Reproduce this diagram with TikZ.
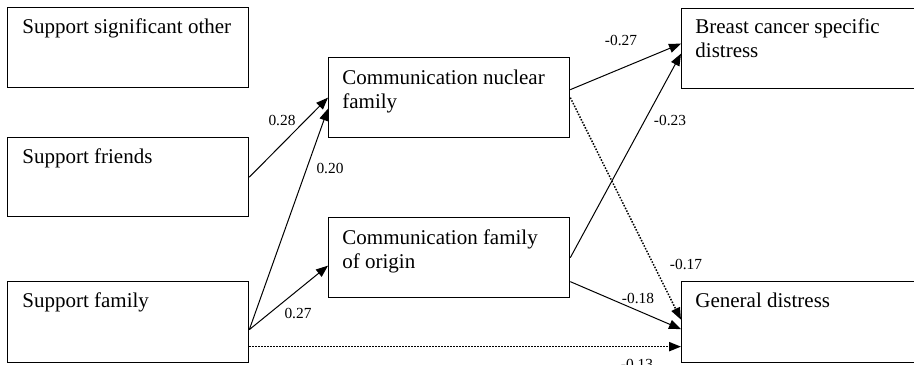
\documentclass[tikz,border=0pt]{standalone}
\usepackage{fontspec}
\setmainfont{Liberation Serif}
\usetikzlibrary{arrows.meta,calc}
% stacked lines inside a box, first baseline is the node's baseline
\newcommand{\boxlines}[1]{\begin{tabular}[t]{@{}l@{}}#1\end{tabular}}
\begin{document}
\begin{tikzpicture}[x=0.5pt,y=-0.5pt,
  box/.style={draw,line width=0.65pt,minimum width=120.5pt,minimum height=40pt,
    anchor=north west,inner sep=0pt},
  boxtext/.style={anchor=base west,inner sep=0pt,font=\fontsize{10.5}{12}\selectfont},
  coef/.style={inner sep=0pt,font=\fontsize{7.7}{9}\selectfont},
  path/.style={line width=0.5pt,-{Triangle[length=6pt,width=4.6pt]}},
  weak/.style={path,line width=0.75pt,dash pattern=on 0.75pt off 0.75pt}
]
\fill[white] (0,0) rectangle (914,364);
\useasboundingbox (0,0) rectangle (914,364);

% boxes
\node[box,minimum height=40pt] (sso) at (7,7) {};
\node[box,minimum height=39.5pt] (fr) at (7,137) {};
\node[box,minimum height=40.5pt] (fam) at (7,281) {};
\node[box] (nuc) at (328,57) {};
\node[box] (orig) at (328,217) {};
\node[box] (br) at (681,8) {};
\node[box,minimum height=40.5pt] (gen) at (681,281) {};

% box texts
\node[boxtext] (tsso) at ($(sso.north west)+(15,26)$) {\boxlines{Support significant other}};
\node[boxtext] (tfr) at ($(fr.north west)+(15,26)$) {\boxlines{Support friends}};
\node[boxtext] (tfam) at ($(fam.north west)+(15,26)$) {\boxlines{Support family}};
\node[boxtext] (tnuc) at ($(nuc.north west)+(14,27)$) {\boxlines{Communication nuclear\\family}};
\node[boxtext] (torig) at ($(orig.north west)+(14,27)$) {\boxlines{Communication family\\of origin}};
\node[boxtext] (tbr) at ($(br.north west)+(14,25)$) {\boxlines{Breast cancer specific\\distress}};
\node[boxtext] (tgen) at ($(gen.north west)+(14,26)$) {\boxlines{General distress}};

% paths
\draw[path] (fr.east) -- (nuc.west);
\draw[path] ($(fam.east)+(0,7.5)$) -- ($(nuc.west)+(0,11)$);
\draw[path] ($(fam.east)+(0,7.5)$) -- ($(orig.west)+(0,8)$);
\draw[weak] ($(fam.east)+(0,24.5)$) -- ($(gen.west)+(0,24.5)$);
\draw[path] ($(nuc.east)+(0,-8)$) -- ($(br.west)+(0,-5)$);
\draw[path] (orig.east) -- ($(br.west)+(0,5)$);
\draw[weak] (nuc.east) -- ($(gen.west)+(0,-2.5)$);
\draw[path] ($(orig.east)+(0,24)$) -- ($(gen.west)+(0,7)$);

% coefficients
\node[coef] (c1) at (282,120) {0.28};
\node[coef] (c2) at (330,168) {0.20};
\node[coef] (c3) at (298,313) {0.27};
\node[coef] (c4) at (621,40) {-0.27};
\node[coef] (c5) at (670,120) {-0.23};
\node[coef] (c6) at (686,264) {-0.17};
\node[coef] (c7) at (638,298) {-0.18};
\node[coef] (c8) at (637,364) {-0.13};
\end{tikzpicture}
\end{document}
